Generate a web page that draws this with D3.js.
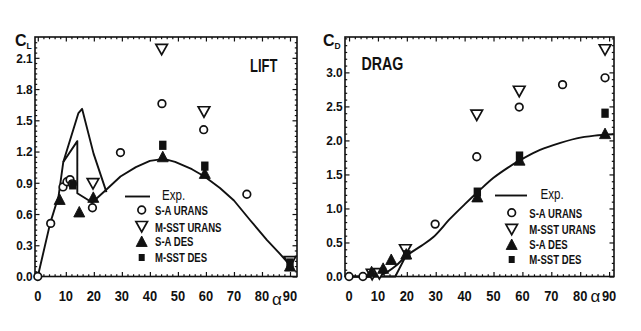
<!DOCTYPE html>
<html>
<head>
<meta charset="utf-8">
<script src="https://cdn.jsdelivr.net/npm/d3@7/dist/d3.min.js"></script>
<style>
  html, body { margin: 0; padding: 0; background: #fff; }
  svg { display: block; }
  text { font-family: 'Liberation Sans', Arial, sans-serif; fill: #111; }
</style>
</head>
<body>
<svg id="chart" width="641" height="331"></svg>
<script>
// ---------------- DATA ----------------
const alphaTicks = [0, 10, 20, 30, 40, 50, 60, 70, 80, 90];
const liftTicks = [0.0, 0.3, 0.6, 0.9, 1.2, 1.5, 1.8, 2.1];
const dragTicks = [0.0, 0.5, 1.0, 1.5, 2.0, 2.5, 3.0];
const legendLabels = ["S-A URANS", "M-SST URANS", "S-A DES", "M-SST DES"];
const expLabel = "Exp.";

// Lift — experiment (main path incl. hysteresis drop) and upper branch
const liftExpMain = [[0,0],[4.4,0.51],[7.4,0.77],[9.1,1.1],[14.1,1.3],[14.1,0.8],[19.4,0.71],[24.7,0.84],[29.5,0.96],[35,1.05],[40,1.11],[45,1.13],[49,1.1],[55,1.03],[59.5,0.96],[65,0.85],[70,0.73],[75.8,0.54],[81.8,0.35],[86,0.23],[90.3,0.1]];
const liftExpUpper = [[9.1,1.1],[14.5,1.57],[15.8,1.61],[19.9,1.18],[24.5,0.81]];
const liftSAurans  = [[0,0],[4.6,0.51],[9,0.86],[10.4,0.91],[11.5,0.93],[12.3,0.89],[19.5,0.66],[29.5,1.19],[44.3,1.66],[59.2,1.41],[74.6,0.79]];
const liftSSTurans = [[19.7,0.89],[44.2,2.18],[59.3,1.58],[90,0.14]];
const liftSAdes    = [[7.8,0.74],[14.8,0.62],[19.8,0.76],[44.6,1.15],[59.6,0.99],[90,0.1]];
const liftSSTdes   = [[12.5,0.88],[44.6,1.26],[59.6,1.06],[90,0.13]];

// Drag — experiment main curve and the low-angle branch
const dragExpMain = [[0,0],[8,0],[12,0.04],[16,0.15],[20,0.31],[25,0.45],[29.2,0.58],[35,0.85],[40,1.06],[45,1.26],[50,1.45],[55,1.6],[59.2,1.71],[65,1.84],[70.7,1.93],[78.8,2.03],[85,2.07],[91.5,2.09]];
const dragExpLow  = [[0,0],[16,0],[20,0.33]];
const dragSAurans  = [[0,0],[4.8,0],[29.8,0.77],[44.2,1.76],[58.9,2.49],[73.9,2.82],[88.6,2.92]];
const dragSSTurans = [[8,0.03],[10.5,0.04],[19.5,0.39],[44.2,2.37],[58.9,2.72],[88.6,3.33]];
const dragSAdes    = [[7.8,0.07],[11.8,0.12],[14.6,0.25],[19.8,0.33],[44.4,1.17],[59,1.71],[88.6,2.1]];
const dragSSTdes   = [[20,0.32],[44.4,1.24],[59,1.77],[88.6,2.4]];

// --------------- DRAWING ---------------
const svg = d3.select("#chart");
const FRAME_TOP = 37, FRAME_BOTTOM = 276.5;

function ctext(g, x, y, str, size, weight, sx, anchor) {
  return g.append("text")
    .attr("transform", `translate(${x},${y}) scale(${sx},1)`)
    .attr("text-anchor", anchor || "start")
    .attr("font-size", size)
    .attr("font-weight", weight)
    .text(str);
}

const shapes = {
  circle: g => g.append("circle").attr("r", 3.8).attr("fill", "#fff").attr("stroke", "#111").attr("stroke-width", 1.7),
  nabla: g => g.append("path").attr("d", "M-5.8,-5.2L5.8,-5.2L0,5.2Z").attr("fill", "#fff").attr("stroke", "#111").attr("stroke-width", 1.7).attr("stroke-linejoin", "miter"),
  tri: g => g.append("path").attr("d", "M-5.5,5L5.5,5L0,-5.5Z").attr("fill", "#111").attr("stroke", "#111").attr("stroke-width", 0.9),
  square: g => g.append("rect").attr("x", -3.7).attr("y", -4.6).attr("width", 7.4).attr("height", 9.2).attr("fill", "#111")
};

function panel(cfg) {
  const g = svg.append("g");
  const x = d3.scaleLinear().domain(cfg.xDom).range(cfg.xRange);
  const y = d3.scaleLinear().domain(cfg.yDom).range([FRAME_BOTTOM, FRAME_TOP]);

  // ticks (inward, all four sides)
  const xMinor = d3.range(0, 92, 2).filter(v => v % 10 !== 0);
  const yMinor = d3.range(0, cfg.yDom[1], cfg.yMinorStep).filter(v => !cfg.yTicks.some(t => Math.abs(t - v) < 1e-6));
  const axes = [
    [d3.axisBottom(x), FRAME_BOTTOM, "h", alphaTicks, xMinor],
    [d3.axisTop(x), FRAME_TOP, "h", alphaTicks, xMinor],
    [d3.axisLeft(y), cfg.xRange[0], "v", cfg.yTicks, yMinor],
    [d3.axisRight(y), cfg.xRange[1], "v", cfg.yTicks, yMinor]
  ];
  axes.forEach(([ax, pos, dir, major, minor]) => {
    [[major, 4.5], [minor, 2.2]].forEach(([vals, len]) => {
      const a = g.append("g")
        .attr("transform", dir === "h" ? `translate(0,${pos})` : `translate(${pos},0)`)
        .call(ax.tickValues(vals).tickSize(-len).tickFormat(""));
      a.select(".domain").remove();
      a.selectAll("line").attr("stroke", "#111").attr("stroke-width", 1.2);
    });
  });

  // frame
  g.append("rect")
    .attr("x", cfg.xRange[0]).attr("y", FRAME_TOP)
    .attr("width", cfg.xRange[1] - cfg.xRange[0]).attr("height", FRAME_BOTTOM - FRAME_TOP)
    .attr("fill", "none").attr("stroke", "#111").attr("stroke-width", 1.6);

  // tick labels
  alphaTicks.forEach(v => ctext(g, x(v), 300.5, String(v), 15, "bold", 0.86, "middle"));
  cfg.yTicks.forEach(v => ctext(g, cfg.xRange[0] - 2.3, y(v) + 4.8, v.toFixed(1), 13.5, "bold", 0.88, "end"));

  // axis titles
  const t = g.append("text").attr("x", cfg.titleX).attr("y", 45.5).attr("font-size", 16).attr("font-weight", "bold").text("C");
  t.append("tspan").attr("font-size", 8.5).attr("dy", 3).text(cfg.sub);
  g.append("text").attr("x", cfg.alphaX).attr("y", cfg.alphaY).attr("text-anchor", "middle").attr("font-size", 17).text("α");
  ctext(g, cfg.nameX, cfg.nameY, cfg.name, 18, "bold", cfg.nameSx, "start");

  // experiment lines
  const line = d3.line().x(d => x(d[0])).y(d => y(d[1]));
  cfg.exp.forEach(([data, curve]) => {
    g.append("path").datum(data).attr("d", line.curve(curve))
      .attr("fill", "none").attr("stroke", "#111").attr("stroke-width", 1.9).attr("stroke-linejoin", "round");
  });

  // markers
  cfg.series.forEach(([data, shape]) => {
    data.forEach(d => {
      const m = g.append("g").attr("transform", `translate(${x(d[0])},${y(d[1])})`);
      shapes[shape](m);
    });
  });

  // legend
  const L = cfg.legend;
  g.append("line").attr("x1", L.lx0).attr("x2", L.lx1).attr("y1", L.ly).attr("y2", L.ly)
    .attr("stroke", "#111").attr("stroke-width", 1.9);
  ctext(g, L.expX, L.ly + 3, expLabel, 14.5, "normal", 0.8, "start");
  const shapeOrder = ["circle", "nabla", "tri", "square"];
  legendLabels.forEach((lab, i) => {
    const m = g.append("g").attr("transform", `translate(${L.sx},${L.rows[i]})`);
    if (shapeOrder[i] === "square") {
      m.append("rect").attr("x", -3).attr("y", -3.5).attr("width", 6).attr("height", 7).attr("fill", "#111");
    } else {
      shapes[shapeOrder[i]](m);
    }
    ctext(g, L.tx, L.rows[i] + 4.8, lab, 13.5, "bold", 0.71, "start");
  });
}

panel({
  xDom: [-1, 92.5], xRange: [35, 297],
  yDom: [0, 2.3], yTicks: liftTicks, yMinorStep: 0.05,
  titleX: 15, sub: "L", alphaX: 277, alphaY: 305,
  name: "LIFT", nameX: 250, nameY: 72.3, nameSx: 0.72,
  exp: [[liftExpMain, d3.curveLinear], [liftExpUpper, d3.curveLinear]],
  series: [[liftSAurans, "circle"], [liftSSTurans, "nabla"], [liftSAdes, "tri"], [liftSSTdes, "square"]],
  legend: { lx0: 125, lx1: 150, ly: 196.5, expX: 162, sx: 141.7, tx: 155, rows: [210, 226.7, 241.5, 257.5] }
});

panel({
  xDom: [-1.4, 91.7], xRange: [345, 614],
  yDom: [0, 3.52], yTicks: dragTicks, yMinorStep: 0.1,
  titleX: 323, sub: "D", alphaX: 595.5, alphaY: 302,
  name: "DRAG", nameX: 361.5, nameY: 70, nameSx: 0.79,
  exp: [[dragExpMain, d3.curveCatmullRom], [dragExpLow, d3.curveLinear]],
  series: [[dragSAurans, "circle"], [dragSSTurans, "nabla"], [dragSAdes, "tri"], [dragSSTdes, "square"]],
  legend: { lx0: 495, lx1: 527, ly: 195.5, expX: 540.5, sx: 511.7, tx: 529.3, rows: [212.7, 229.5, 244.5, 259.5] }
});
</script>
</body>
</html>
